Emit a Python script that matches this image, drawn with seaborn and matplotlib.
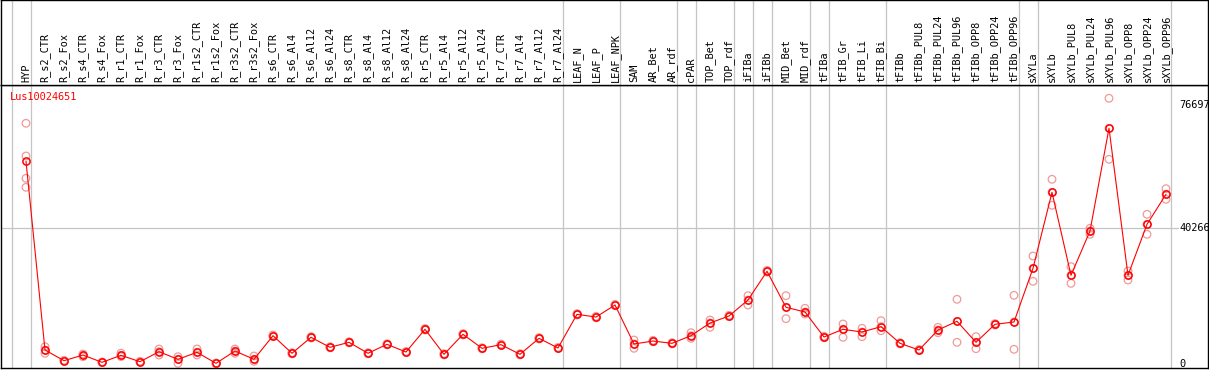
import matplotlib
matplotlib.use("Agg")
import matplotlib.pyplot as plt
import seaborn as sns
import pandas as pd

# === DATA ===
gene = "Lus10024651"

samples = [
    "HYP",
    "R_s2_CTR", "R_s2_Fox", "R_s4_CTR", "R_s4_Fox", "R_r1_CTR", "R_r1_Fox",
    "R_r3_CTR", "R_r3_Fox", "R_r1s2_CTR", "R_r1s2_Fox", "R_r3s2_CTR", "R_r3s2_Fox",
    "R_s6_CTR", "R_s6_Al4", "R_s6_Al12", "R_s6_Al24",
    "R_s8_CTR", "R_s8_Al4", "R_s8_Al12", "R_s8_Al24",
    "R_r5_CTR", "R_r5_Al4", "R_r5_Al12", "R_r5_Al24",
    "R_r7_CTR", "R_r7_Al4", "R_r7_Al12", "R_r7_Al24",
    "LEAF_N", "LEAF_P", "LEAF_NPK",
    "SAM", "AR_Bet", "AR_rdf",
    "cPAR",
    "TOP_Bet", "TOP_rdf",
    "iFIBa",
    "iFIBb",
    "MID_Bet", "MID_rdf",
    "tFIBa",
    "tFIB_Gr", "tFIB_Li", "tFIB_Bi",
    "tFIBb", "tFIBb_PUL8", "tFIBb_PUL24", "tFIBb_PUL96",
    "tFIBb_OPP8", "tFIBb_OPP24", "tFIBb_OPP96",
    "sXYLa",
    "sXYLb", "sXYLb_PUL8", "sXYLb_PUL24", "sXYLb_PUL96",
    "sXYLb_OPP8", "sXYLb_OPP24", "sXYLb_OPP96",
]

means = [
    60000,
    4140, 980, 2660, 500, 2570, 680,
    3640, 1390, 3460, 200, 3850, 1390,
    8380, 3170, 7900, 4940,
    6420, 3170, 5830, 3550,
    10270, 2870, 8790, 4650,
    5720, 2870, 7600, 4740,
    14700, 13900, 17460,
    5920, 6800, 6120,
    8380,
    12140, 14200,
    18940,
    27440,
    16780, 15400,
    7990,
    10270, 9470, 11050,
    6120, 4140, 10060, 12640,
    6420, 11750, 12430,
    28330,
    50820, 26250, 39370, 69770,
    26250, 41350, 50230,
]

replicates = [
    [71250, 61570, 54970, 52300],
    [5120, 4140, 3170], [1100, 980, 850], [2950, 2660, 2170], [600, 500, 400],
    [3200, 2570, 2200], [800, 680, 560],
    [4420, 3640, 2660], [2170, 1390, 200], [4440, 3460, 2660], [300, 200, 100],
    [4440, 3850, 3170], [2370, 1390, 800],
    [8600, 8380, 8150], [3350, 3170, 3000], [8100, 7900, 7700], [5100, 4940, 4800],
    [6600, 6420, 6250], [3350, 3170, 3000], [6000, 5830, 5650], [3700, 3550, 3400],
    [10500, 10270, 10050], [3050, 2870, 2700], [9000, 8790, 8600], [4800, 4650, 4500],
    [5900, 5720, 5550], [3050, 2870, 2700], [7800, 7600, 7400], [4900, 4740, 4600],
    [14900, 14700, 14500], [14100, 13900, 13700], [17650, 17460, 17250],
    [7100, 5920, 4650], [7000, 6800, 6600], [6300, 6120, 5950],
    [9270, 8380, 7600],
    [13020, 12140, 10860], [14400, 14200, 14000],
    [20220, 18940, 17460],
    [27700, 27440, 27200],
    [20220, 16780, 13420], [16480, 15400, 14800],
    [8200, 7990, 7800],
    [11840, 10270, 7900], [10560, 9470, 8090], [12820, 11050, 9860],
    [6300, 6120, 5950], [4300, 4140, 4000], [10860, 10060, 9270], [19150, 12640, 6420],
    [8090, 6420, 4530], [11950, 11750, 11550], [20330, 12430, 4350],
    [31970, 28330, 24480],
    [54670, 50820, 46980], [28800, 26250, 23880], [40170, 39370, 38390], [78650, 69770, 60590],
    [27530, 26250, 24860], [44310, 41350, 38390], [51890, 50230, 48750],
]

# index of the last sample in each tissue block (a grey separator follows it)
block_ends = [-1, 0, 28, 31, 34, 35, 37, 38, 39, 41, 42, 45, 52, 53, 60]

scale_ticks = [0, 40266, 76697]

# === BUILD TABLES ===
pos = list(range(len(samples)))
mean_df = pd.DataFrame({"pos": pos, "value": means})
rep_rows = [(i, v) for i, vals in enumerate(replicates) for v in vals]
rep_df = pd.DataFrame(rep_rows, columns=["pos", "value"])

# === FIGURE ===
sns.set_style("white")
plt.rcParams["font.family"] = ["DejaVu Sans Mono", "DejaVu Sans"]

W, H = 1209, 370
fig = plt.figure(figsize=(W / 100, H / 100), dpi=100)

x_lo, x_hi = (1 - 26) / 19, (1208 - 26) / 19
y_lo, y_hi = -4 * 296, (364 - 85) * 296

ax = fig.add_axes([1 / W, (H - 368) / H, 1207 / W, 283 / H])
hd = fig.add_axes([1 / W, (H - 85) / H, 1207 / W, 85 / H])

for a in (ax, hd):
    a.set_xlim(x_lo, x_hi)
    a.set_xticks([])
    a.set_yticks([])
    a.set_facecolor("white")
    for s in a.spines.values():
        s.set_color("black")
        s.set_linewidth(1.0)
    for b in block_ends:
        a.axvline(b + 0.24, color="#c4c4c4", lw=0.9, zorder=0)

hd.set_ylim(0, 1)
ax.set_ylim(y_lo, y_hi)

# header labels
for i, name in enumerate(samples):
    hd.text(i, 3 / 85, name, rotation=90, ha="center", va="bottom",
            fontsize=7.4, color="black")

# horizontal guide at middle scale value
ax.plot([x_lo, (1178 - 26) / 19], [scale_ticks[1]] * 2, color="#c4c4c4", lw=0.9, zorder=0)

# replicates
sns.scatterplot(data=rep_df, x="pos", y="value", ax=ax, marker="o", s=30,
                facecolors="none", edgecolor="#ef9a9a", linewidth=0.9,
                legend=False, zorder=2)

# mean line
sns.lineplot(data=mean_df, x="pos", y="value", ax=ax, color="red", lw=0.8,
             marker="o", markersize=5.2, markerfacecolor="none",
             markeredgecolor="red", markeredgewidth=1.1, zorder=3)
ax.set_xlabel("")
ax.set_ylabel("")

# gene label
fig.text(10 / W, 1 - 97 / H, gene, color="red", fontsize=7.4, ha="left", va="center")

# scale labels
for v in scale_ticks:
    ax.text((1179 - 1) / 1207, v, str(v), transform=ax.get_yaxis_transform(),
            ha="left", va="center", fontsize=7.4, color="black")

plt.savefig("out.png", dpi=100)
plt.close()
